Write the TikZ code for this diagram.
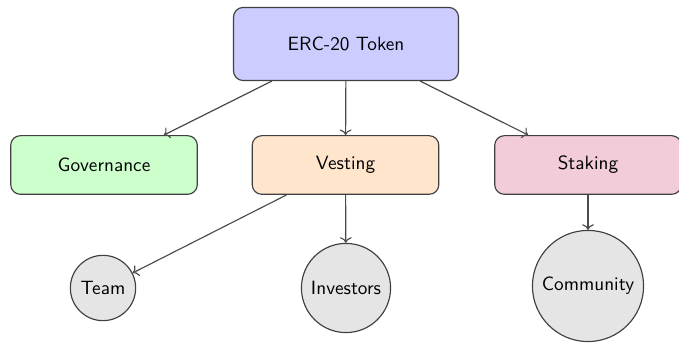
\documentclass[tikz,border=0pt]{standalone}
\usetikzlibrary{arrows.meta}
\begin{document}
\begin{tikzpicture}[x=0.52pt,y=-0.52pt,
  font=\sffamily,
  box/.style={draw=black!75, line width=0.6pt, rounded corners=5pt, minimum width=97pt, minimum height=30.5pt, align=center},
  topbox/.style={box, minimum width=117pt, minimum height=38pt, fill=blue!20},
  circ/.style={circle, draw=black!75, line width=0.6pt, fill=gray!20, inner sep=3.8pt},
  conn/.style={draw=black!70, line width=0.6pt, ->}
]
\useasboundingbox (0,0) rectangle (679,344);
\node[topbox] (erc) at (346,44) {ERC-20 Token};
\node[box, fill=green!20] (gov) at (104,165) {Governance};
\node[box, fill=orange!20] (vest) at (345.5,165) {Vesting};
\node[box, fill=purple!20] (stak) at (588,165) {Staking};
\node[circ] (team) at (103,288) {Team};
\node[circ] (inv) at (346,288) {Investors};
\node[circ] (comm) at (588,286) {Community};
\draw[conn] (erc) -- (gov);
\draw[conn] (erc) -- (vest);
\draw[conn] (erc) -- (stak);
\draw[conn] (vest) -- (team);
\draw[conn] (vest) -- (inv);
\draw[conn] (stak) -- (comm);
\end{tikzpicture}
\end{document}
